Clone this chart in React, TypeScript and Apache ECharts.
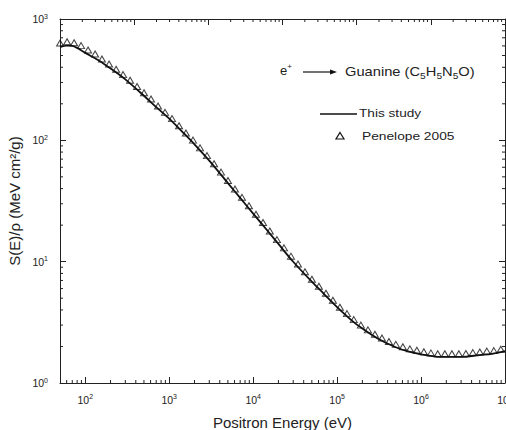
import React, { useEffect, useRef } from "react";
import * as echarts from "echarts";

// This study (solid line)
const energyLine = [50, 60, 70, 80, 100, 150, 200, 300, 500, 700, 1e3, 1.5e3, 2e3, 3e3, 5e3, 7e3, 1e4, 1.5e4, 2e4, 3e4, 5e4, 7e4, 1e5, 1.5e5, 2e5, 3e5, 5e5, 7e5, 1e6, 1.5e6, 2e6, 3e6, 5e6, 7e6, 1e7];
const stoppingLine = [587, 604, 601, 578, 526, 449, 391, 318, 233, 188, 151, 114, 92.7, 68, 44.4, 33.6, 24.9, 17.8, 14.0, 9.98, 6.84, 5.41, 4.22, 3.27, 2.81, 2.34, 1.97, 1.82, 1.72, 1.65, 1.64, 1.64, 1.70, 1.74, 1.83];

// Penelope 2005 (open triangles)
const energyPen = [50.1, 60.7, 73.6, 89.1, 108, 131, 158, 192, 233, 282, 342, 414, 501, 607, 736, 891, 1080, 1310, 1580, 1920, 2330, 2820, 3420, 4140, 5010, 6070, 7360, 8910, 10800, 13100, 15800, 19200, 23300, 28200, 34200, 41400, 50100, 60700, 73600, 89100, 108000, 131000, 158000, 192000, 233000, 282000, 342000, 414000, 501000, 607000, 736000, 891000, 1.08e6, 1.31e6, 1.58e6, 1.92e6, 2.33e6, 2.82e6, 3.42e6, 4.14e6, 5.01e6, 6.07e6, 7.36e6, 8.91e6];
const stoppingPen = [634, 650, 638, 603, 556, 514, 468, 426, 385, 348, 313, 278, 247, 219, 192, 170, 151, 132, 115, 100.4, 86.7, 74.8, 64.1, 54.7, 46.7, 39.7, 33.9, 28.9, 24.6, 21.0, 17.9, 15.2, 13.0, 11.1, 9.57, 8.27, 7.17, 6.28, 5.49, 4.81, 4.21, 3.73, 3.33, 3.00, 2.74, 2.52, 2.35, 2.20, 2.08, 1.99, 1.91, 1.86, 1.81, 1.77, 1.74, 1.74, 1.74, 1.74, 1.75, 1.78, 1.80, 1.83, 1.85, 1.90];

const X_MIN = 50;
const X_MAX = 1e7;
const TOP_MIN = 10;
const Y_MIN = 1;
const Y_MAX = 1000;

function minorTicks(lo: number, hi: number): number[] {
  const out: number[] = [];
  for (let d = -1; d <= 8; d++) {
    for (let m = 2; m <= 9; m++) {
      const v = m * Math.pow(10, d);
      if (v > lo * 1.0001 && v < hi * 0.9999) out.push(v);
    }
  }
  return out;
}

const FONT = "'Liberation Sans', Arial, sans-serif";

const powLabel = (v: number) => {
  const l = Math.log10(v);
  const r = Math.round(l);
  if (Math.abs(l - r) > 1e-6) return "";
  return `{b|10}{e|${r}}`;
};

const labelRich = {
  b: { fontSize: 10.5, fontFamily: FONT, color: "#222", lineHeight: 13 },
  e: { fontSize: 7, fontFamily: FONT, color: "#222", verticalAlign: "top", lineHeight: 7 },
};

export default function App() {
  const ref = useRef<HTMLDivElement>(null);
  useEffect(() => {
    if (!ref.current) return;
    const chart = echarts.init(ref.current, null, { renderer: "svg" });

    const tickLine = (dx: number, dy: number) => (params: any, api: any) => {
      const p = api.coord([api.value(0), api.value(1)]);
      return {
        type: "line",
        shape: { x1: p[0], y1: p[1], x2: p[0] + dx, y2: p[1] + dy },
        style: { stroke: "#222", lineWidth: 1 },
      };
    };

    const axisCommon = {
      type: "log",
      logBase: 10,
      axisLine: { show: true, onZero: false, lineStyle: { color: "#222", width: 1 } },
      axisTick: { show: true, inside: true, length: 6, lineStyle: { color: "#222", width: 1 } },
      splitLine: { show: false },
      minorTick: { show: false },
    };

    chart.setOption({
      animation: false,
      backgroundColor: "#fff",
      grid: { left: 60, right: 1, top: 19, bottom: 47, containLabel: false, outerBoundsMode: "none" },
      xAxis: [
        {
          ...axisCommon,
          position: "bottom",
          min: X_MIN,
          max: X_MAX,
          axisLabel: {
            show: true,
            margin: 10,
            formatter: powLabel,
            rich: labelRich,
            showMinLabel: false,
            showMaxLabel: true,
            hideOverlap: false,
          },
          name: "Positron Energy (eV)",
          nameLocation: "middle",
          nameGap: 32,
          nameTextStyle: { fontSize: 15, fontFamily: FONT, color: "#222" },
        },
        {
          ...axisCommon,
          position: "top",
          min: TOP_MIN,
          max: X_MAX,
          axisLabel: { show: false },
        },
      ],
      yAxis: [
        {
          ...axisCommon,
          position: "left",
          min: Y_MIN,
          max: Y_MAX,
          axisLabel: { show: true, margin: 12, formatter: powLabel, rich: labelRich },
          name: "S(E)/ρ (MeV cm²/g)",
          nameLocation: "middle",
          nameGap: 27,
          nameRotate: 90,
          nameTextStyle: { fontSize: 15, fontFamily: FONT, color: "#222" },
        },
        {
          ...axisCommon,
          position: "right",
          min: Y_MIN,
          max: Y_MAX,
          axisLabel: { show: false },
        },
      ],
      series: [
        {
          name: "This study",
          type: "line",
          xAxisIndex: 0,
          yAxisIndex: 0,
          data: energyLine.map((e, i) => [e, stoppingLine[i]]),
          showSymbol: false,
          symbol: "none",
          smooth: 0.3,
          lineStyle: { color: "#111", width: 1.8 },
          z: 3,
        },
        {
          name: "Penelope 2005",
          type: "scatter",
          xAxisIndex: 0,
          yAxisIndex: 0,
          data: energyPen.map((e, i) => [e, stoppingPen[i]]),
          symbol: "triangle",
          symbolSize: [7, 6],
          itemStyle: { color: "rgba(255,255,255,0)", borderColor: "#111", borderWidth: 1 },
          z: 2,
        },
        {
          type: "custom",
          xAxisIndex: 0,
          yAxisIndex: 0,
          clip: false,
          silent: true,
          data: minorTicks(X_MIN, X_MAX).map((v) => [v, Y_MIN]),
          renderItem: tickLine(0, -3),
        },
        {
          type: "custom",
          xAxisIndex: 1,
          yAxisIndex: 0,
          clip: false,
          silent: true,
          data: minorTicks(TOP_MIN, X_MAX).map((v) => [v, Y_MAX]),
          renderItem: tickLine(0, 3),
        },
        {
          type: "custom",
          xAxisIndex: 0,
          yAxisIndex: 0,
          clip: false,
          silent: true,
          data: minorTicks(Y_MIN, Y_MAX).map((v) => [X_MIN, v]),
          renderItem: tickLine(3, 0),
        },
        {
          type: "custom",
          xAxisIndex: 0,
          yAxisIndex: 0,
          clip: false,
          silent: true,
          data: minorTicks(Y_MIN, Y_MAX).map((v) => [X_MAX, v]),
          renderItem: tickLine(-3, 0),
        },
      ],
      graphic: [
        {
          type: "text",
          x: 280,
          y: 70,
          style: {
            text: "{t|e}{s|+}",
            verticalAlign: "middle",
            rich: {
              t: { fontSize: 13, fontFamily: FONT, fill: "#222", lineHeight: 16 },
              s: { fontSize: 8, fontFamily: FONT, fill: "#222", verticalAlign: "top", lineHeight: 8 },
            },
          },
        },
        {
          type: "line",
          shape: { x1: 303, y1: 72, x2: 331, y2: 72 },
          style: { stroke: "#111", lineWidth: 1.2 },
        },
        {
          type: "polygon",
          shape: { points: [[330, 69.5], [337, 72], [330, 74.5]] },
          style: { fill: "#111" },
        },
        {
          type: "text",
          x: 345,
          y: 71,
          scaleX: 1.13,
          style: {
            text: "{t|Guanine (C}{s|5}{t|H}{s|5}{t|N}{s|5}{t|O)}",
            verticalAlign: "middle",
            rich: {
              t: { fontSize: 13, fontFamily: FONT, fill: "#222", lineHeight: 18 },
              s: { fontSize: 9, fontFamily: FONT, fill: "#222", verticalAlign: "bottom", lineHeight: 9 },
            },
          },
        },
        {
          type: "line",
          shape: { x1: 320, y1: 114, x2: 357, y2: 114 },
          style: { stroke: "#111", lineWidth: 1.5 },
        },
        {
          type: "text",
          x: 359,
          y: 114,
          scaleX: 1.3,
          style: { text: "This study", fontSize: 10.5, fontFamily: FONT, fill: "#222", verticalAlign: "middle" },
        },
        {
          type: "polygon",
          shape: { points: [[340, 132.5], [344, 139], [336, 139]] },
          style: { fill: "none", stroke: "#111", lineWidth: 1.2 },
        },
        {
          type: "text",
          x: 362,
          y: 136,
          scaleX: 1.25,
          style: { text: "Penelope 2005", fontSize: 11, fontFamily: FONT, fill: "#222", verticalAlign: "middle" },
        },
      ],
    });
    return () => chart.dispose();
  }, []);
  return (
    <div
      ref={ref}
      style={{ position: "absolute", left: 0, top: 0, width: 506, height: 430 }}
    />
  );
}
